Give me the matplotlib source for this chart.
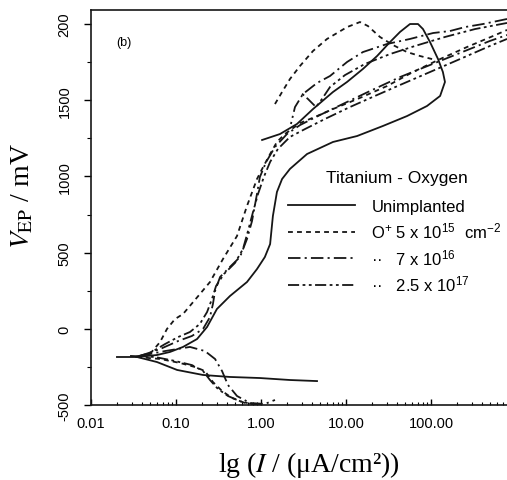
import numpy as np
import matplotlib
matplotlib.use('Agg')
import matplotlib.pyplot as plt

plt.rcParams['font.family'] = ['Liberation Sans', 'DejaVu Sans']
plt.rcParams['mathtext.fontset'] = 'custom'
plt.rcParams['mathtext.rm'] = 'Liberation Sans'
plt.rcParams['mathtext.it'] = 'Liberation Sans:italic'
plt.rcParams['lines.scale_dashes'] = False

# current density in uA/cm2, potential in mV
# Unimplanted
unimp_cat_i = [0.0202, 0.0348, 0.0597, 0.103, 0.208, 0.431, 0.97, 2.19, 4.56]
unimp_cat_v = [-185, -185, -218, -270, -303, -316, -323, -336, -343]
unimp_an_i = [0.0348, 0.0597, 0.0849, 0.121, 0.177, 0.232, 0.303, 0.431, 0.684, 0.897,
              1.11, 1.28, 1.38, 1.54, 1.77, 2.19, 3.48, 7.03, 13.5, 27.2, 52.2, 89.7,
              128, 146, 138, 121, 97.3, 80.5, 70.3, 56.6, 43.2, 33.0, 23.2, 15.8, 10.3,
              7.03, 4.09, 2.65, 1.67, 1.03]
unimp_an_v = [-185, -172, -152, -119, -67, 12, 130, 215, 307, 392,
              471, 556, 740, 898, 983, 1049, 1147, 1226, 1265, 1331, 1396, 1462,
              1528, 1620, 1685, 1770, 1882, 1967, 2000, 2000, 1948, 1882, 1790, 1705, 1620,
              1554, 1442, 1344, 1278, 1239]

# O+ 5e15
o15_cat_i = [0.0348, 0.0649, 0.111, 0.168, 0.219, 0.272, 0.348, 0.456, 0.649, 1.03]
o15_cat_v = [-185, -198, -224, -251, -277, -349, -408, -454, -487, -500]
o15_an_i = [0.0494, 0.0649, 0.0783, 0.0973, 0.121, 0.191, 0.251, 0.357, 0.522, 0.684,
            0.897, 1.06, 1.28, 1.54, 1.91, 2.88, 4.56, 7.03, 14.6, 30.4, 61.4, 128,
            265, 536, 784]
o15_an_v = [-165, -87, -1, 64, 97, 228, 307, 458, 609, 806,
            983, 1062, 1147, 1226, 1278, 1350, 1396, 1442, 1515, 1593, 1685, 1770,
            1849, 1921, 1961]
o15_rev_i = [1.46, 1.77, 2.19, 2.88, 4.09, 5.98, 10.3, 14.6, 18.1, 25.1, 35.7, 52.2, 74.3, 103]
o15_rev_v = [1475, 1554, 1639, 1725, 1823, 1902, 1980, 2013, 1987, 1915, 1862, 1816, 1790, 1770]

# 7e16
o16_cat_i = [0.0377, 0.0743, 0.146, 0.219, 0.288, 0.348, 0.409, 0.522, 0.743, 1.11, 1.46]
o16_cat_v = [-178, -146, -119, -146, -198, -277, -369, -441, -487, -493, -467]
o16_an_i = [0.0377, 0.0649, 0.106, 0.154, 0.208, 0.251, 0.272, 0.288, 0.330, 0.431,
            0.566, 0.684, 0.784, 0.897, 0.970, 1.15, 1.46, 2.02, 2.88, 4.94, 9.73,
            19.1, 43.2, 97.3, 219, 494, 784]
o16_an_v = [-178, -133, -80, -47, -1, 77, 163, 248, 340, 406,
            471, 589, 707, 885, 996, 1095, 1193, 1278, 1337, 1403, 1482,
            1560, 1652, 1731, 1810, 1889, 1928]
o16_rev_i = [784, 409, 251, 167, 106, 56.6, 30.4, 15.8, 10.3, 6.49, 4.56, 3.12, 2.51, 2.25]
o16_rev_v = [2033, 2000, 1980, 1954, 1941, 1902, 1869, 1816, 1751, 1659, 1613, 1541, 1455, 1344]

# 2.5e17
o17_cat_i = [0.0288, 0.0566, 0.0973, 0.154, 0.208, 0.251, 0.312, 0.409, 0.597, 0.923]
o17_cat_v = [-178, -185, -211, -238, -277, -336, -395, -441, -480, -500]
o17_an_i = [0.0330, 0.0494, 0.0743, 0.106, 0.146, 0.191, 0.232, 0.265, 0.296, 0.367,
            0.494, 0.614, 0.703, 0.805, 0.923, 1.08, 1.28, 1.58, 2.19, 3.30, 5.66,
            11.1, 21.9, 43.2, 97.3, 219, 494, 784]
o17_an_v = [-185, -159, -100, -54, -21, 32, 110, 196, 281, 360,
            432, 524, 642, 766, 885, 996, 1095, 1180, 1259, 1311, 1377,
            1455, 1528, 1600, 1685, 1770, 1856, 1902]
o17_rev_i = [784, 330, 146, 64.9, 33.0, 16.7, 9.73, 6.49, 5.22, 4.44, 3.57, 2.88]
o17_rev_v = [2007, 1967, 1915, 1856, 1803, 1738, 1665, 1587, 1508, 1455, 1508, 1554]

legend_title = 'Titanium - Oxygen'
labels = ['Unimplanted', 'O$^{+}$ 5 x 10$^{15}$  cm$^{-2}$',
          '\u00b7\u00b7   7 x 10$^{16}$', '\u00b7\u00b7   2.5 x 10$^{17}$']
xtick_vals = [0.01, 0.1, 1, 10, 100]
xtick_labels = ['0.01', '0.10', '1.00', '10.00', '100.00']
ytick_vals = [-500, 0, 500, 1000, 1500, 2000]
ytick_labels = ['-500', '0', '500', '1000', '1500', '200']

ink = '#161616'
styles = [
    dict(linestyle='-'),
    dict(linestyle=(0, (3.5, 3))),
    dict(linestyle=(0, (9, 3, 1.5, 3))),
    dict(linestyle=(0, (8, 2.5, 2, 2.5, 2, 2.5))),
]
series = [
    [(unimp_cat_i, unimp_cat_v), (unimp_an_i, unimp_an_v)],
    [(o15_cat_i, o15_cat_v), (o15_an_i, o15_an_v), (o15_rev_i, o15_rev_v)],
    [(o16_cat_i, o16_cat_v), (o16_an_i, o16_an_v), (o16_rev_i, o16_rev_v)],
    [(o17_cat_i, o17_cat_v), (o17_an_i, o17_an_v), (o17_rev_i, o17_rev_v)],
]

fig = plt.figure(figsize=(5.07, 4.81), dpi=100)
ax = fig.add_axes([91 / 507, 75 / 481, 425 / 507, 395 / 481])

handles = []
for segs, st in zip(series, styles):
    for k, (i, v) in enumerate(segs):
        ln, = ax.plot(i, v, color=ink, lw=1.3, **st)
        if k == 0:
            handles.append(ln)

ax.set_xscale('log')
ax.set_xlim(0.01, 1000)
ax.set_ylim(-500, 2092)
ax.set_xticks(xtick_vals)
ax.set_xticklabels(xtick_labels)
ax.set_yticks(ytick_vals)
ax.set_yticklabels(ytick_labels)
ax.yaxis.set_minor_locator(matplotlib.ticker.MultipleLocator(250))
ax.tick_params(axis='x', which='major', direction='in', length=4, width=1, pad=8, labelsize=10.5)
ax.tick_params(axis='x', which='minor', direction='in', length=2.5, width=0.8)
ax.tick_params(axis='y', which='major', direction='out', length=5, width=1, pad=9,
               labelsize=10.5, labelrotation=90)
ax.tick_params(axis='y', which='minor', direction='out', length=3, width=0.8)
for lbl in ax.get_yticklabels():
    lbl.set_verticalalignment('center')
for s in ax.spines.values():
    s.set_linewidth(1.2)
    s.set_color(ink)

# legend title drawn separately so the gap below it matches the scan
ax.text((397 - 91) / 425, (406 - 178) / 395, legend_title, transform=ax.transAxes,
        fontsize=12.5, ha='center', va='center')
leg = ax.legend(handles, labels, loc='upper left',
                bbox_to_anchor=(0.4635, (406 - 200) / 395), frameon=False, fontsize=12,
                handlelength=4.0, handletextpad=1.0,
                labelspacing=0.4, borderpad=0, borderaxespad=0)

ax.text(0.06, 0.919, '(b)', transform=ax.transAxes, fontsize=9, ha='left', va='center')

fig.text(23 / 507, 1 - 196 / 481, '$V_{\\rm EP}$ / mV', rotation=90, ha='center', va='center',
         fontsize=20, family='Liberation Serif', math_fontfamily='stix')
fig.text(309 / 507, 1 - 465 / 481, 'lg ($I$ / (\u03bcA/cm\u00b2))', ha='center', va='center',
         fontsize=20, family='Liberation Serif', math_fontfamily='stix')

fig.savefig('out.png', dpi=100)
